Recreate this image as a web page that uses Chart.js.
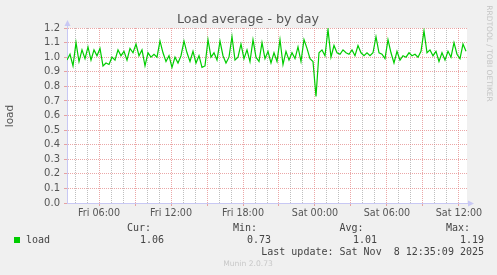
<!DOCTYPE html>
<html>
<head>
<meta charset="utf-8">
<title>Load average - by day</title>
<script src="https://cdn.jsdelivr.net/npm/chart.js@4/dist/chart.umd.min.js"></script>
<style>
  html, body { margin: 0; padding: 0; background: #f0f0f0; }
  #loadChart { display: block; }
</style>
</head>
<body>
<canvas id="loadChart" width="497" height="275"></canvas>
<script>
// Time span shown, in hours counted from Fri 00:00
const startHour = 3.333;
const endHour = 36.667;
const sampleStep = 0.25; // one reading every 15 minutes

// Load readings (left to right)
const loadValues = [
    0.98, 1.02, 0.94, 1.10, 0.97, 1.05, 0.99, 1.07, 0.98, 1.05,
    1.01, 1.06, 0.94, 0.96, 0.95, 1.00, 0.98, 1.05, 1.01, 1.04,
    0.98, 1.06, 1.03, 1.09, 1.01, 1.05, 0.94, 1.03, 1.00, 1.02,
    1.00, 1.11, 1.03, 0.97, 1.01, 0.93, 1.00, 0.96, 1.01, 1.11,
    1.03, 0.97, 1.04, 0.96, 1.01, 0.93, 0.94, 1.12, 1.00, 1.03,
    0.98, 1.11, 1.01, 0.96, 1.00, 1.14, 0.98, 1.00, 1.09, 0.99,
    1.05, 0.97, 1.12, 1.00, 0.97, 1.10, 0.99, 1.04, 0.96, 1.03,
    0.97, 1.12, 0.95, 1.04, 0.98, 1.03, 0.99, 1.07, 0.97, 1.12,
    1.06, 0.99, 0.97, 0.73, 1.03, 1.05, 1.01, 1.19, 1.00, 1.08,
    1.03, 1.02, 1.05, 1.03, 1.02, 1.05, 1.01, 1.08, 1.03, 1.01,
    1.03, 1.01, 1.03, 1.14, 1.03, 1.02, 0.99, 1.12, 1.03, 0.96,
    1.04, 0.98, 1.01, 1.00, 1.03, 1.01, 1.02, 1.00, 1.04, 1.18,
    1.03, 1.05, 1.01, 1.04, 0.97, 1.03, 0.98, 1.04, 1.00, 1.10,
    1.02, 0.99, 1.09, 1.04
];

// X axis labels
const labelHours = [6, 12, 18, 24, 30, 36];
const labelTexts = ['Fri 06:00', 'Fri 12:00', 'Fri 18:00', 'Sat 00:00', 'Sat 06:00', 'Sat 12:00'];

// Y axis ticks
const yTicks = [0, 0.1, 0.2, 0.3, 0.4, 0.5, 0.6, 0.7, 0.8, 0.9, 1.0, 1.1, 1.2];

// Legend summary
const legendHeads = ['Cur:', 'Min:', 'Avg:', 'Max:'];
const legendValues = ['1.06', '0.73', '1.01', '1.19'];
const lastUpdate = 'Last update: Sat Nov  8 12:35:09 2025';

const lineGreen = '#00cc00';
const gridRed = 'rgba(225, 120, 120, 0.65)';
const gridGray = 'rgba(170, 170, 170, 0.75)';
const axisBlue = '#c8c8f4';

// Build points
const points = loadValues.map((v, i) => ({ x: startHour + i * sampleStep, y: v }));

// Extra drawing: background, title, arrows, legend
const munin = {
    id: 'munin',
    beforeDraw(chart) {
        const c = chart.ctx;
        const a = chart.chartArea;
        c.save();
        c.fillStyle = '#f0f0f0';
        c.fillRect(0, 0, chart.width, chart.height);
        c.fillStyle = '#ffffff';
        c.fillRect(a.left, a.top, a.right - a.left, a.bottom - a.top);
        c.restore();
    },
    afterDraw(chart) {
        const c = chart.ctx;
        const a = chart.chartArea;
        c.save();

        // axis arrows
        c.strokeStyle = axisBlue;
        c.fillStyle = axisBlue;
        c.lineWidth = 1;
        c.beginPath();
        c.moveTo(a.left + 0.5, a.top);
        c.lineTo(a.left + 0.5, a.top - 3);
        c.moveTo(a.right, a.bottom + 0.5);
        c.lineTo(a.right + 3, a.bottom + 0.5);
        c.stroke();
        c.beginPath();
        c.moveTo(a.left + 0.5, a.top - 8);
        c.lineTo(a.left - 2.5, a.top - 2);
        c.lineTo(a.left + 3.5, a.top - 2);
        c.closePath();
        c.fill();
        c.beginPath();
        c.moveTo(a.right + 7, a.bottom + 0.5);
        c.lineTo(a.right + 1, a.bottom - 2.5);
        c.lineTo(a.right + 1, a.bottom + 3.5);
        c.closePath();
        c.fill();

        // title
        c.fillStyle = '#555555';
        c.font = '12.7px "DejaVu Sans"';
        c.textAlign = 'center';
        c.textBaseline = 'middle';
        c.fillText('Load average - by day', 248, 20);

        // y axis title
        c.save();
        c.translate(10, 116);
        c.rotate(-Math.PI / 2);
        c.font = '10.5px "DejaVu Sans"';
        c.fillText('load', 0, 0);
        c.restore();

        // side credit
        c.save();
        c.translate(488.5, 53.5);
        c.rotate(Math.PI / 2);
        c.fillStyle = '#c4c4c4';
        c.font = '7.5px "DejaVu Sans"';
        c.fillText('RRDTOOL / TOBI OETIKER', 0, 0);
        c.restore();

        // legend
        c.font = '10px "DejaVu Sans Mono"';
        c.fillStyle = '#444444';
        c.textAlign = 'left';
        const headX = [127, 233, 339.5, 446];
        legendHeads.forEach((h, i) => c.fillText(h, headX[i], 228.5));
        c.fillText('load', 26, 240.5);
        c.textAlign = 'right';
        const valX = [164, 271, 377, 484];
        legendValues.forEach((v, i) => c.fillText(v, valX[i], 240.5));
        c.fillText(lastUpdate, 484, 252);
        c.fillStyle = lineGreen;
        c.fillRect(14, 237, 6, 6);

        // footer
        c.textAlign = 'center';
        c.fillStyle = '#c8c8c8';
        c.font = '7.6px "DejaVu Sans"';
        c.fillText('Munin 2.0.73', 248, 264);

        c.restore();
    }
};

const ctx = document.getElementById('loadChart').getContext('2d');

new Chart(ctx, {
    type: 'line',
    data: {
        datasets: [{
            label: 'load',
            data: points,
            borderColor: lineGreen,
            borderWidth: 1.2,
            pointRadius: 0,
            tension: 0,
            fill: false,
        }],
    },
    options: {
        responsive: false,
        animation: false,
        layout: { padding: { top: 28, right: 30, left: 0, bottom: 0 } },
        plugins: {
            legend: { display: false },
            tooltip: { enabled: false },
        },
        scales: {
            x: {
                type: 'linear',
                min: startHour,
                max: endHour,
                afterFit: s => { s.height = 72; },
                afterBuildTicks: s => {
                    const t = [];
                    for (let h = 4; h <= 36; h++) t.push({ value: h });
                    s.ticks = t;
                },
                grid: {
                    color: c => (c.tick && c.tick.value % 3 === 0 ? gridRed : gridGray),
                    tickColor: c => (c.tick && c.tick.value % 3 === 0 ? gridRed : 'rgba(0,0,0,0)'),
                    tickLength: 3,
                    borderDash: [1, 1],
                },
                border: { color: axisBlue, dash: [1, 1] },
                ticks: {
                    autoSkip: false,
                    maxRotation: 0,
                    padding: 2,
                    color: '#555555',
                    font: { family: 'DejaVu Sans', size: 9.6 },
                    callback: v => {
                        const k = labelHours.indexOf(v);
                        return k >= 0 ? labelTexts[k] : '';
                    },
                },
            },
            y: {
                min: 0,
                max: 1.2,
                afterFit: s => { s.width = 67; },
                afterBuildTicks: s => { s.ticks = yTicks.map(v => ({ value: v })); },
                grid: {
                    color: gridRed,
                    tickLength: 3,
                    borderDash: [1, 1],
                },
                border: { color: axisBlue, dash: [1, 1] },
                ticks: {
                    autoSkip: false,
                    padding: 4,
                    color: '#555555',
                    font: { family: 'DejaVu Sans', size: 10 },
                    callback: v => v.toFixed(1),
                },
            },
        },
    },
    plugins: [munin],
});
</script>
</body>
</html>
